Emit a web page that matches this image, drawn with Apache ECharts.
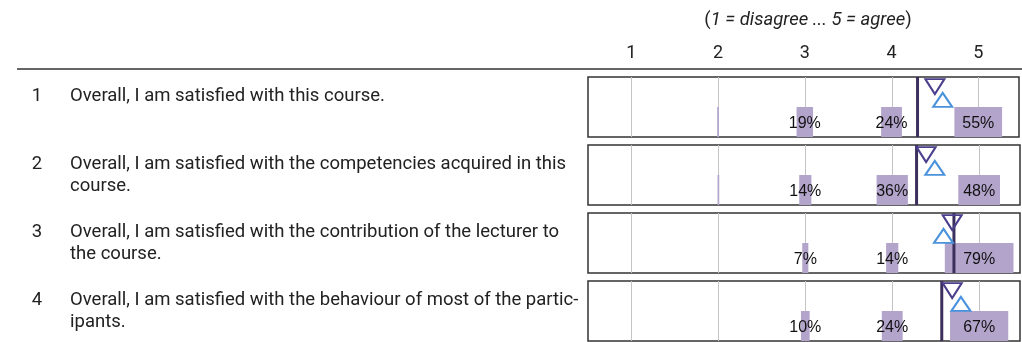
<!DOCTYPE html>
<html>
<head>
<meta charset="utf-8">
<script src="https://cdn.jsdelivr.net/npm/echarts@6/dist/echarts.min.js"></script>
<style>
html,body{margin:0;padding:0;background:#fff;}
#c{width:1022px;height:342px;}
</style>
</head>
<body>
<div id="c"></div>
<script>
// ---- data ----
const scaleValues = [1, 2, 3, 4, 5];
const tickLabels = ['1', '2', '3', '4', '5'];
const questionNumbers = ['1', '2', '3', '4'];
const questions = [
  'Overall, I am satisfied with this course.',
  'Overall, I am satisfied with the competencies acquired in this\ncourse.',
  'Overall, I am satisfied with the contribution of the lecturer to\nthe course.',
  'Overall, I am satisfied with the behaviour of most of the partic-\nipants.'
];
const pctQ1 = [0, 2, 19, 24, 55];
const pctQ2 = [0, 2, 14, 36, 48];
const pctQ3 = [0, 0, 7, 14, 79];
const pctQ4 = [0, 0, 10, 24, 67];
const percents = [pctQ1, pctQ2, pctQ3, pctQ4];
const means = [4.30, 4.28, 4.71, 4.57];
const compareDown = [4.50, 4.39, 4.69, 4.69];
const compareUp = [4.59, 4.49, 4.59, 4.79];
const scaleNote = ['(', '1 = disagree ... 5 = agree', ')'];

// ---- layout / style ----
const FONT = 'Roboto';
const TEXT_SIZE = 18.5;
const GRID_LEFT = 588, GRID_W = 432, GRID_TOP0 = 77, GRID_STEP = 68, GRID_H = 60;
const X_MIN = 0.5, X_MAX = 5.47;
const BAR_COLOR = '#b3a4cb';
const MEAN_COLOR = '#3c2f5c';
const DOWN_COLOR = '#4a3f8c';
const UP_COLOR = '#4a93dc';
const GRIDLINE_COLOR = '#c4c4c4';

const chart = echarts.init(document.getElementById('c'), null, {renderer: 'canvas'});

const grids = [], xAxes = [], yAxes = [], series = [], graphics = [];

questions.forEach((q, i) => {
  const top = GRID_TOP0 + i * GRID_STEP;
  grids.push({left: GRID_LEFT, top: top, width: GRID_W, height: GRID_H,
    show: true, backgroundColor: '#fff', borderColor: '#333', borderWidth: 1.5});
  xAxes.push({
    type: 'value', gridIndex: i, min: X_MIN, max: X_MAX, interval: 0.5,
    position: 'top',
    axisLine: {show: false}, axisTick: {show: false}, splitLine: {show: false},
    axisLabel: {
      show: i === 0, margin: 15, color: '#222', fontFamily: FONT, fontSize: 18,
      formatter: v => {
        const k = scaleValues.indexOf(Math.round(v * 1000) / 1000);
        return k >= 0 ? tickLabels[k] : '';
      }
    }
  });
  yAxes.push({type: 'value', gridIndex: i, min: 0, max: 1, show: false});

  // gridlines at scale values
  series.push({
    type: 'custom', xAxisIndex: i, yAxisIndex: i, z: 1, silent: true,
    data: scaleValues.map(v => [v]),
    renderItem: (params, api) => {
      const a = api.coord([api.value(0), 0]);
      const b = api.coord([api.value(0), 1]);
      const x = Math.round(a[0]) + 0.5;
      return {type: 'line', shape: {x1: x, y1: a[1], x2: x, y2: b[1]},
        style: {stroke: GRIDLINE_COLOR, lineWidth: 1}};
    }
  });

  // proportional-width bars with labels
  series.push({
    type: 'custom', xAxisIndex: i, yAxisIndex: i, z: 2, silent: true,
    data: scaleValues.map((v, k) => [v, percents[i][k]]),
    renderItem: (params, api) => {
      const v = api.value(0), p = api.value(1);
      if (!p) return null;
      const bl = api.coord([v - p / 200, 0]);
      const tr = api.coord([v + p / 200, 0.5]);
      const c = api.coord([v, 0.25]);
      const children = [{
        type: 'rect',
        shape: {x: bl[0], y: tr[1], width: tr[0] - bl[0], height: bl[1] - tr[1]},
        style: {fill: BAR_COLOR}
      }];
      if (p >= 5) {
        children.push({
          type: 'text', x: c[0], y: c[1] + 2, z2: 10,
          style: {text: p + '%', fill: '#111', font: '16px "Liberation Sans", Arial, sans-serif',
            align: 'center', verticalAlign: 'middle'}
        });
      }
      return {type: 'group', children: children};
    }
  });

  // mean line
  series.push({
    type: 'custom', xAxisIndex: i, yAxisIndex: i, z: 3, silent: true,
    data: [[means[i]]],
    renderItem: (params, api) => {
      const a = api.coord([api.value(0), 0]);
      const b = api.coord([api.value(0), 1]);
      return {type: 'line', shape: {x1: a[0], y1: a[1], x2: a[0], y2: b[1]},
        style: {stroke: MEAN_COLOR, lineWidth: 3}};
    }
  });

  // comparison markers
  series.push({
    type: 'scatter', xAxisIndex: i, yAxisIndex: i, z: 4, silent: true,
    symbol: 'triangle', symbolSize: [19, 15], symbolRotate: 180,
    itemStyle: {color: 'rgba(255,255,255,0)', borderColor: DOWN_COLOR, borderWidth: 2, opacity: 1},
    data: [[compareDown[i], 0.84]]
  });
  series.push({
    type: 'scatter', xAxisIndex: i, yAxisIndex: i, z: 4, silent: true,
    symbol: 'triangle', symbolSize: [19, 14],
    itemStyle: {color: 'rgba(255,255,255,0)', borderColor: UP_COLOR, borderWidth: 2, opacity: 1},
    data: [[compareUp[i], 0.62]]
  });

  // left texts
  graphics.push({
    type: 'text', x: 37, y: top + 19,
    style: {text: questionNumbers[i], fill: '#222', font: TEXT_SIZE + 'px ' + FONT,
      align: 'center', verticalAlign: 'middle'}
  });
  graphics.push({
    type: 'text', x: 70, y: top + 8,
    style: {text: q, fill: '#222', font: TEXT_SIZE + 'px ' + FONT, lineHeight: 22,
      align: 'left', verticalAlign: 'top'}
  });
});

// header rule
graphics.push({type: 'line', shape: {x1: 17, y1: 69, x2: 1022, y2: 69},
  style: {stroke: '#666', lineWidth: 2}});
// header note
graphics.push({
  type: 'text', x: 808, y: 20,
  style: {
    text: '{n|' + scaleNote[0] + '}{i|' + scaleNote[1] + '}{n|' + scaleNote[2] + '}',
    align: 'center', verticalAlign: 'middle', fill: '#222',
    rich: {
      n: {fontFamily: FONT, fontSize: TEXT_SIZE, fill: '#222'},
      i: {fontFamily: FONT, fontSize: TEXT_SIZE, fontStyle: 'italic', fill: '#222'}
    }
  }
});

chart.setOption({
  animation: false,
  grid: grids, xAxis: xAxes, yAxis: yAxes, series: series, graphic: graphics
});
</script>
</body>
</html>
